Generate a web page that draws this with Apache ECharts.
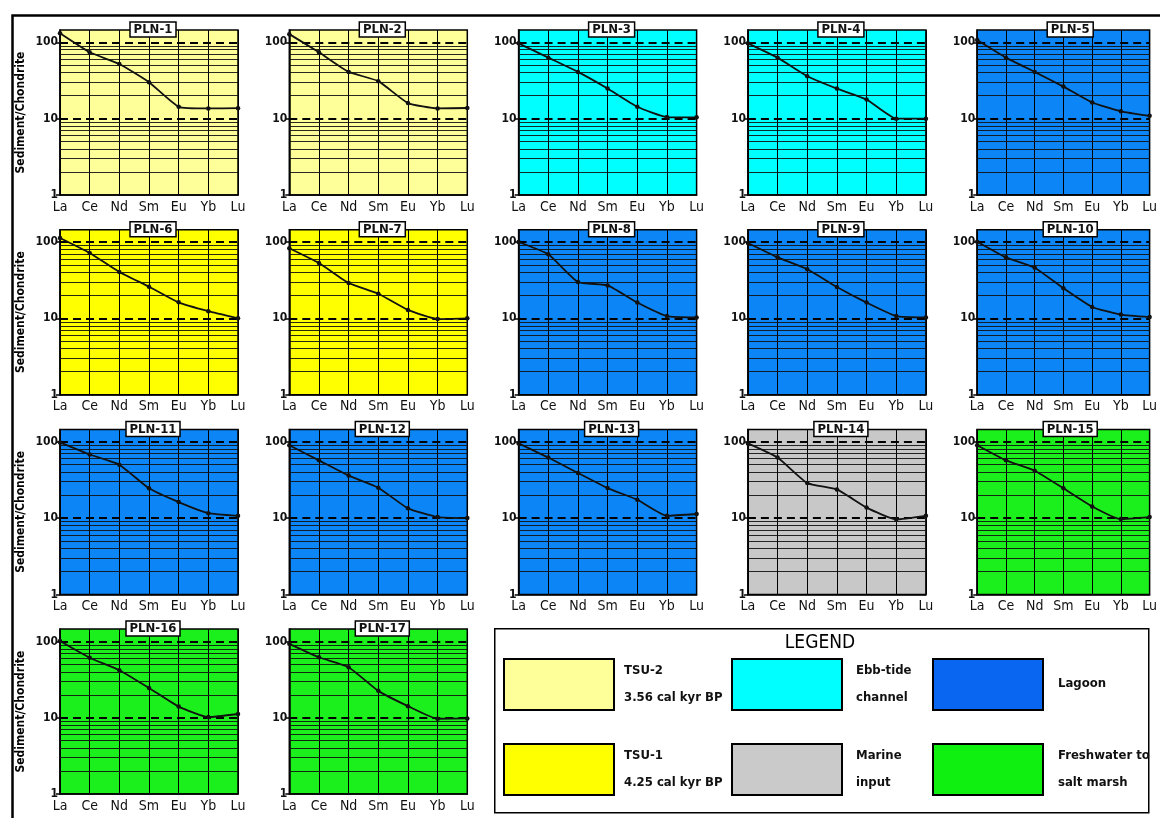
<!DOCTYPE html>
<html>
<head>
<meta charset="utf-8">
<script src="https://cdn.jsdelivr.net/npm/echarts@6/dist/echarts.min.js"></script>
<style>
html,body{margin:0;padding:0;background:#fff;}
#chart{width:1160px;height:818px;}
</style>
</head>
<body>
<div id="chart"></div>
<script>
// ---------- DATA ----------
const categories = ['La', 'Ce', 'Nd', 'Sm', 'Eu', 'Yb', 'Lu'];
const yTickValues = [1, 10, 100];
const minorGridValues = [2, 3, 4, 5, 6, 7, 8, 9, 20, 30, 40, 50, 60, 70, 80, 90];
const dashedGridValues = [10, 100];

const sampleNames = ['PLN-1','PLN-2','PLN-3','PLN-4','PLN-5','PLN-6','PLN-7','PLN-8','PLN-9',
  'PLN-10','PLN-11','PLN-12','PLN-13','PLN-14','PLN-15','PLN-16','PLN-17'];

const pln1  = [131, 74, 52, 30, 14.3, 13.6, 13.7];
const pln2  = [128, 74, 41, 31, 16, 13.6, 13.8];
const pln3  = [97, 63, 41, 24.8, 14.3, 10.5, 10.4];
const pln4  = [97, 63, 36, 24.8, 17.8, 10, 10];
const pln5  = [107, 63, 41, 26.3, 16.3, 12.5, 10.9];
const pln6  = [113, 72, 40.5, 26, 16.2, 12.4, 10];
const pln7  = [83, 53, 29, 21, 12.9, 9.8, 10];
const pln8  = [100, 69, 30, 27, 16.1, 10.7, 10.3];
const pln9  = [97, 63, 44, 25.8, 16.1, 10.7, 10.3];
const pln10 = [101, 63, 46, 24.8, 14.1, 11.2, 10.4];
const pln11 = [98, 68, 50, 24.5, 16.2, 11.6, 10.7];
const pln12 = [90, 57, 36, 25, 13.4, 10.3, 10];
const pln13 = [95, 62, 39, 24.7, 17.4, 10.7, 11.3];
const pln14 = [95, 62, 28.7, 23.7, 13.7, 9.6, 10.7];
const pln15 = [90, 57, 41.7, 24.5, 14.2, 9.7, 10.3];
const pln16 = [101, 61, 42, 24.6, 14, 10.2, 11.2];
const pln17 = [93, 62, 46, 22.5, 14.2, 9.7, 9.8];

const sampleValues = [pln1, pln2, pln3, pln4, pln5, pln6, pln7, pln8, pln9,
  pln10, pln11, pln12, pln13, pln14, pln15, pln16, pln17];

// facies of each sample
const sampleFacies = ['tsu2','tsu2','ebb','ebb','lagoon','tsu1','tsu1','lagoon','lagoon',
  'lagoon','lagoon','lagoon','lagoon','marine','fresh','fresh','fresh'];

const legendKeys = ['tsu2', 'ebb', 'lagoon', 'tsu1', 'marine', 'fresh'];
const legendLines = [
  ['TSU-2', '3.56 cal kyr BP'],
  ['Ebb-tide', 'channel'],
  ['Lagoon'],
  ['TSU-1', '4.25 cal kyr BP'],
  ['Marine', 'input'],
  ['Freshwater to', 'salt marsh']
];
const legendTitle = 'LEGEND';
const yAxisName = 'Sediment/Chondrite';

// ---------- STYLE ----------
const panelColors = {
  tsu2: '#FFFF99', tsu1: '#FFFF00', ebb: '#00FFFF',
  lagoon: '#0C86F6', marine: '#C8C8C8', fresh: '#1CF01C'
};
const swatchColors = {
  tsu2: '#FFFF99', tsu1: '#FFFF00', ebb: '#00FFFF',
  lagoon: '#0866F0', marine: '#CACACA', fresh: '#10F010'
};
const FONT = "'Liberation Sans Narrow', 'DejaVu Sans Condensed', 'Roboto', sans-serif";

const COLS = 5;
const LEFT0 = 60, COLSTEP = 229.3, W = 178;
const TOP0 = 30, ROWSTEP = 199.7, H = 165;
const YMAX = 145;

const grids = [], xAxes = [], yAxes = [], series = [], titles = [];

sampleValues.forEach((vals, i) => {
  const r = Math.floor(i / COLS), c = i % COLS;
  const left = LEFT0 + COLSTEP * c;
  const top = TOP0 + ROWSTEP * r;
  grids.push({
    left: left, top: top, width: W, height: H,
    show: true, backgroundColor: panelColors[sampleFacies[i]],
    borderColor: '#000', borderWidth: 1.5, containLabel: false
  });
  xAxes.push({
    type: 'category', gridIndex: i, data: categories, boundaryGap: false,
    axisLine: { show: true, lineStyle: { color: '#000', width: 1.5 } },
    axisTick: { show: false },
    splitLine: { show: true, interval: 0, lineStyle: { color: '#000', width: 1 } },
    axisLabel: { color: '#111', fontFamily: FONT, fontSize: 14, margin: 5, interval: 0 }
  });
  yAxes.push({
    type: 'log', logBase: 10, gridIndex: i, min: 1, max: YMAX,
    name: c === 0 ? yAxisName : '',
    nameLocation: 'middle', nameGap: 33,
    nameTextStyle: { color: '#000', fontFamily: FONT, fontSize: 12, fontWeight: 'bold' },
    axisLine: { show: true, lineStyle: { color: '#000', width: 1.5 } },
    axisTick: { show: true, length: 4, customValues: yTickValues, lineStyle: { color: '#000', width: 1.5 } },
    splitLine: { show: false },
    minorTick: { show: false },
    axisLabel: {
      customValues: yTickValues, color: '#111', fontFamily: FONT, fontSize: 12, fontWeight: 'bold', margin: 2,
      formatter: v => String(Math.round(v))
    }
  });
  const mlData = [];
  minorGridValues.forEach(v => mlData.push({ yAxis: v, lineStyle: { color: '#111', width: 1, type: 'solid', opacity: 0.9 } }));
  dashedGridValues.forEach(v => mlData.push({ yAxis: v, lineStyle: { color: '#000', width: 2, type: [8, 5] } }));
  series.push({
    type: 'line', xAxisIndex: i, yAxisIndex: i, data: vals,
    symbol: 'circle', symbolSize: 4.5, smooth: 0.15,
    lineStyle: { color: '#111', width: 1.8 },
    itemStyle: { color: '#111' },
    z: 3,
    markLine: {
      silent: true, symbol: ['none', 'none'], label: { show: false },
      animation: false, data: mlData, z: 2
    }
  });
  titles.push({
    text: sampleNames[i], left: left + W / 2, top: top - 8, textAlign: 'center',
    backgroundColor: '#fff', borderColor: '#000', borderWidth: 1.5,
    padding: [1, 4, 0, 4], itemGap: 0,
    textStyle: { color: '#111', fontFamily: FONT, fontSize: 13, fontWeight: 'bold', lineHeight: 14 },
    z: 10
  });
});

// ---------- legend & frame graphics ----------
const graphic = [];
graphic.push({
  type: 'rect', left: 10, top: 13, z: 0,
  shape: { width: 1200, height: 900 },
  style: { fill: 'none', stroke: '#000', lineWidth: 2.5 }
});
graphic.push({
  type: 'rect', left: 494, top: 628, z: 20,
  shape: { width: 654, height: 184 },
  style: { fill: '#fff', stroke: '#000', lineWidth: 1.5 }
});
graphic.push({
  type: 'text', x: 820, y: 643, z: 21,
  style: { text: legendTitle, font: "19px " + FONT, fill: '#000', textAlign: 'center', textVerticalAlign: 'middle' }
});
const swX = [503, 731, 932], swY = [658, 743], txX = [624, 856, 1058];
legendKeys.forEach((k, j) => {
  const col = j % 3, row = Math.floor(j / 3);
  graphic.push({
    type: 'rect', left: swX[col], top: swY[row], z: 21,
    shape: { width: 110, height: 51 },
    style: { fill: swatchColors[k], stroke: '#000', lineWidth: 2 }
  });
  const lines = legendLines[j];
  const centers = lines.length === 2 ? [swY[row] + 13, swY[row] + 40] : [swY[row] + 26];
  lines.forEach((t, m) => {
    graphic.push({
      type: 'text', x: txX[col], y: centers[m], z: 21,
      style: { text: t, font: "bold 13px " + FONT, fill: '#111', textAlign: 'left', textVerticalAlign: 'middle' }
    });
  });
});

const chart = echarts.init(document.getElementById('chart'), null, { renderer: 'canvas' });
chart.setOption({
  animation: false,
  backgroundColor: '#fff',
  title: titles,
  grid: grids,
  xAxis: xAxes,
  yAxis: yAxes,
  series: series,
  graphic: graphic
});
</script>
</body>
</html>
